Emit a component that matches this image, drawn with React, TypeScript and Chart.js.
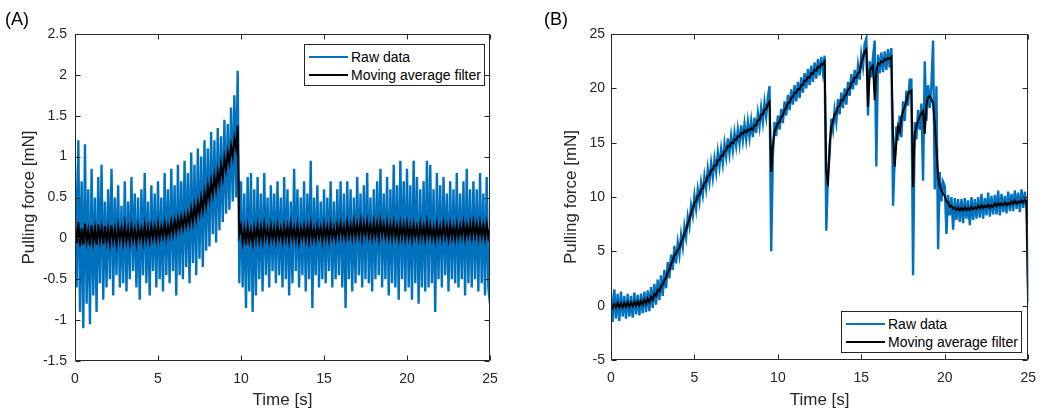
import { useEffect, useRef } from "react";
import { Chart, registerables } from "chart.js";

Chart.register(...registerables);

// ---------- data ----------
const SAMPLE_STEP_S = 0.1;
const X_TICKS = [0, 5, 10, 15, 20, 25];
const Y_TICKS_A = [-1.5, -1, -0.5, 0, 0.5, 1, 1.5, 2, 2.5];
const Y_TICKS_B = [-5, 0, 5, 10, 15, 20, 25];
const LEGEND_LABELS = ["Raw data", "Moving average filter"];

// Panel (A) raw force, one value per 0.1 s (rows = 1 s)
const RAW_A = [
  0.9, -0.6, 1.2, -0.9, 0.7, -1.1, 1.15, -0.8, 0.6, -1.05,
  0.85, -0.7, 0.5, -0.9, 0.75, -0.55, 0.9, -0.75, 0.45, -0.6,
  0.6, -0.5, 0.85, -0.7, 0.5, -0.45, 0.65, -0.6, 0.4, -0.55,
  0.7, -0.65, 0.45, -0.5, 0.75, -0.4, 0.55, -0.6, 0.5, -0.75,
  0.6, -0.45, 0.8, -0.55, 0.45, -0.7, 0.65, -0.4, 0.55, -0.6,
  0.7, -0.5, 0.5, -0.65, 0.8, -0.45, 0.6, -0.55, 0.85, -0.4,
  0.65, -0.7, 0.9, -0.45, 0.7, -0.5, 0.95, -0.35, 0.8, -0.55,
  1.05, -0.3, 0.9, -0.45, 1.1, -0.25, 1.0, -0.35, 1.2, -0.15,
  1.1, -0.1, 1.3, 0.05, 1.2, -0.05, 1.35, 0.1, 1.25, 0.2,
  1.45, 0.3, 1.4, 0.35, 1.6, 0.45, 1.75, 0.5, 2.05, -0.55,
  0.7, -0.6, 0.55, -0.85, 0.75, -0.65, 0.8, -0.9, 0.6, -0.7,
  0.75, -0.5, 0.55, -0.65, 0.8, -0.45, 0.5, -0.6, 0.65, -0.4,
  0.55, -0.55, 0.7, -0.45, 0.5, -0.6, 0.75, -0.5, 0.6, -0.7,
  0.45, -0.55, 0.85, -0.4, 0.6, -0.6, 0.5, -0.45, 0.7, -0.65,
  0.55, -0.5, 0.95, -0.85, 0.5, -0.45, 0.65, -0.6, 0.45, -0.5,
  0.6, -0.55, 0.5, -0.4, 0.7, -0.6, 0.45, -0.5, 0.6, -0.45,
  0.7, -0.6, 0.55, -0.85, 0.7, -0.5, 0.6, -0.65, 0.5, -0.55,
  0.75, -0.45, 0.55, -0.6, 0.65, -0.5, 0.8, -0.55, 0.5, -0.65,
  0.6, -0.5, 0.7, -0.45, 0.85, -0.6, 0.55, -0.5, 0.75, -0.7,
  0.6, -0.55, 0.9, -0.6, 0.65, -0.75, 0.95, -0.5, 0.7, -0.65,
  0.85, -0.6, 0.65, -0.75, 0.95, -0.55, 0.75, -0.8, 0.6, -0.6,
  0.7, -0.65, 0.95, -0.6, 0.9, -0.55, 0.6, -0.9, 0.8, -0.5,
  0.65, -0.6, 0.75, -0.45, 0.55, -0.65, 0.7, -0.5, 0.6, -0.55,
  0.8, -0.6, 0.55, -0.5, 0.7, -0.7, 0.85, -0.55, 0.6, -0.6,
  0.7, -0.5, 0.6, -0.65, 0.8, -0.55, 0.55, -0.7, 0.75, -0.6,
  -0.8,
];

// Panel (A) moving average
const AVG_A = [
  0.15, -0.06, 0.2, -0.1, 0.12, -0.08, 0.18, -0.04, 0.1, -0.09,
  0.16, -0.05, 0.12, -0.08, 0.17, -0.03, 0.13, -0.07, 0.15, -0.04,
  0.12, -0.06, 0.16, -0.03, 0.11, -0.07, 0.15, -0.02, 0.12, -0.05,
  0.16, -0.03, 0.12, -0.05, 0.15, -0.02, 0.11, -0.06, 0.14, -0.01,
  0.12, -0.04, 0.16, -0.02, 0.13, -0.03, 0.15, 0.0, 0.14, -0.02,
  0.17, 0.0, 0.14, 0.02, 0.18, 0.01, 0.16, 0.04, 0.2, 0.06,
  0.22, 0.08, 0.24, 0.11, 0.26, 0.12, 0.28, 0.15, 0.3, 0.17,
  0.36, 0.2, 0.4, 0.24, 0.44, 0.3, 0.5, 0.35, 0.56, 0.4,
  0.64, 0.48, 0.7, 0.54, 0.76, 0.6, 0.82, 0.67, 0.9, 0.74,
  0.98, 0.84, 1.05, 0.92, 1.13, 1.0, 1.22, 1.1, 1.38, 0.05,
  0.15, -0.05, 0.12, -0.08, 0.14, -0.03, 0.1, -0.06, 0.13, -0.02,
  0.16, -0.02, 0.13, -0.04, 0.17, 0.0, 0.12, -0.03, 0.15, -0.01,
  0.13, -0.03, 0.16, 0.0, 0.12, -0.04, 0.15, -0.01, 0.14, -0.03,
  0.17, 0.0, 0.13, -0.02, 0.16, -0.04, 0.12, 0.0, 0.15, -0.02,
  0.14, -0.03, 0.17, -0.01, 0.12, -0.02, 0.15, 0.01, 0.13, -0.03,
  0.16, 0.0, 0.14, -0.02, 0.17, 0.01, 0.13, -0.01, 0.16, 0.02,
  0.18, 0.02, 0.15, 0.0, 0.19, 0.03, 0.16, 0.01, 0.2, 0.02,
  0.17, 0.03, 0.21, 0.01, 0.18, 0.04, 0.2, 0.02, 0.17, 0.01,
  0.2, 0.03, 0.18, 0.0, 0.21, 0.04, 0.17, 0.02, 0.19, 0.01,
  0.16, 0.0, 0.19, 0.02, 0.15, -0.01, 0.18, 0.01, 0.16, 0.0,
  0.18, 0.01, 0.15, -0.02, 0.17, 0.02, 0.14, 0.0, 0.18, 0.01,
  0.15, -0.01, 0.19, 0.02, 0.16, 0.0, 0.13, -0.02, 0.17, 0.01,
  0.14, 0.0, 0.18, 0.02, 0.15, -0.01, 0.17, 0.01, 0.14, -0.01,
  0.17, 0.01, 0.15, 0.02, 0.19, 0.0, 0.16, 0.03, 0.18, 0.01,
  0.2, 0.03, 0.17, 0.01, 0.19, 0.02, 0.16, 0.0, 0.18, 0.02,
  0.12,
];

// Panel (B) raw force
const RAW_B = [
  1.2, -1.5, 1.5, -1.2, 1.1, -1.4, 1.3, -1.0, 0.9, -1.2,
  1.1, -1.0, 0.9, -1.1, 1.2, -0.8, 1.0, -0.9, 1.1, -0.7,
  1.3, -0.6, 1.4, -0.5, 1.7, -0.2, 2.0, 0.1, 2.4, 0.5,
  2.8, 0.9, 3.3, 1.6, 4.0, 2.5, 4.7, 3.3, 5.5, 3.9,
  5.8, 4.7, 6.5, 5.4, 7.3, 6.3, 8.2, 7.3, 9.2, 8.3,
  10.1, 8.9, 10.7, 9.6, 11.3, 10.2, 11.9, 10.8, 12.6, 11.4,
  13.1, 11.8, 13.5, 12.3, 14.1, 12.8, 14.4, 13.1, 14.9, 13.7,
  15.4, 14.0, 15.6, 14.3, 15.9, 14.7, 16.2, 14.9, 16.6, 15.2,
  16.7, 15.3, 16.9, 15.5, 17.0, 15.5, 17.3, 15.9, 17.7, 16.5,
  18.2, 16.9, 18.7, 17.4, 19.2, 20.2, 5.0, 13.8, 16.9, 15.6,
  17.5, 16.2, 18.1, 16.8, 18.8, 17.5, 19.4, 18.0, 19.9, 18.5,
  20.3, 18.8, 20.6, 19.1, 21.0, 19.6, 21.4, 20.0, 21.8, 20.3,
  22.1, 20.6, 22.4, 20.9, 22.7, 21.2, 22.9, 21.5, 23.0, 6.9,
  12.0, 13.9, 17.2, 16.2, 18.0, 16.9, 19.0, 17.6, 19.6, 18.2,
  20.0, 18.5, 20.6, 19.3, 21.3, 19.9, 21.7, 20.3, 22.1, 20.8,
  23.1, 22.0, 24.1, 24.6, 17.5, 22.5, 21.0, 22.9, 24.4, 12.8,
  23.1, 21.4, 23.3, 21.5, 23.4, 21.7, 23.6, 21.9, 23.7, 9.2,
  13.5, 16.5, 15.2, 17.5, 15.5, 18.8, 17.0, 19.8, 18.4, 20.8,
  20.8, 2.8, 16.9, 15.3, 18.0, 16.2, 18.6, 11.5, 22.5, 17.0,
  20.3, 18.2, 20.4, 24.4, 10.7, 20.2, 5.2, 12.3, 9.6, 11.4,
  11.0, 6.6, 10.2, 8.3, 10.0, 7.0, 9.9, 7.9, 9.8, 7.7,
  9.8, 7.6, 9.9, 8.0, 9.7, 7.4, 10.0, 7.9, 9.8, 8.0,
  10.0, 8.1, 10.3, 8.0, 9.9, 8.3, 10.4, 8.2, 10.1, 8.4,
  10.2, 8.4, 10.6, 8.3, 10.3, 8.6, 10.1, 8.5, 10.5, 8.7,
  10.3, 8.7, 10.6, 8.9, 10.4, 8.6, 10.7, 9.0, 10.5, 8.9,
  0.3,
];

// Panel (B) moving average
const AVG_B = [
  0.2, -0.2, 0.15, -0.2, 0.25, -0.15, 0.2, -0.15, 0.25, -0.1,
  0.3, -0.1, 0.3, -0.05, 0.35, 0.0, 0.4, 0.0, 0.45, 0.1,
  0.55, 0.2, 0.65, 0.3, 0.8, 0.55, 1.1, 0.9, 1.45, 1.3,
  1.8, 1.95, 2.35, 2.55, 3.05, 3.35, 3.85, 4.15, 4.65, 4.8,
  5.1, 5.35, 5.85, 6.15, 6.65, 6.95, 7.55, 7.95, 8.55, 8.95,
  9.5, 9.6, 10.1, 10.2, 10.7, 10.8, 11.3, 11.4, 11.9, 12.0,
  12.5, 12.5, 12.9, 12.9, 13.4, 13.4, 13.8, 13.8, 14.2, 14.3,
  14.7, 14.65, 15.0, 14.95, 15.3, 15.25, 15.6, 15.55, 15.9, 15.8,
  16.1, 15.95, 16.2, 16.1, 16.35, 16.2, 16.6, 16.6, 17.05, 17.1,
  17.6, 17.6, 18.05, 18.1, 18.55, 18.75, 12.3, 14.8, 16.0, 16.4,
  16.8, 16.9, 17.4, 17.5, 18.05, 18.2, 18.65, 18.7, 19.15, 19.2,
  19.6, 19.6, 19.95, 19.9, 20.3, 20.3, 20.7, 20.7, 21.05, 21.0,
  21.4, 21.35, 21.7, 21.65, 22.0, 21.9, 22.25, 22.2, 22.45, 12.5,
  11.0, 14.9, 16.4, 17.0, 17.6, 17.8, 18.3, 18.4, 18.9, 18.9,
  19.3, 19.4, 19.9, 20.0, 20.5, 20.6, 21.0, 21.0, 21.4, 21.5,
  22.4, 22.8, 23.4, 23.6, 18.3, 21.6, 21.9, 22.1, 18.9, 21.5,
  22.3, 22.2, 22.5, 22.4, 22.7, 22.6, 22.8, 22.7, 22.9, 15.8,
  12.8, 15.0, 16.5, 16.0, 17.2, 17.9, 18.3, 18.8, 19.5, 19.7,
  19.8, 10.9, 15.8, 16.5, 17.0, 17.4, 17.7, 17.9, 15.8, 18.5,
  19.2, 19.3, 19.0, 18.6, 16.7, 14.5, 11.9, 11.0, 10.6, 10.3,
  10.1, 9.6, 9.5, 9.1, 9.2, 8.9, 9.05, 8.8, 9.0, 8.75,
  9.0, 8.75, 9.05, 8.8, 9.0, 8.8, 9.1, 8.85, 9.05, 8.9,
  9.2, 8.95, 9.25, 9.0, 9.2, 9.05, 9.3, 9.0, 9.25, 9.1,
  9.4, 9.15, 9.45, 9.2, 9.4, 9.25, 9.5, 9.25, 9.45, 9.3,
  9.6, 9.35, 9.65, 9.4, 9.6, 9.45, 9.7, 9.5, 9.75, 9.6,
  0.3,
];

// ---------- styles ----------
const FONT_FAMILY = '"Liberation Sans", Arial, Helvetica, sans-serif';
const AXIS_COLOR = "#262626";
const RAW_COLOR = "#0072BD";
const AVG_COLOR = "#000000";
const W = 1046;
const H = 412;

const boxPlugin = {
  id: "matlabBox",
  afterDatasetsDraw(chart: any) {
    const { ctx, chartArea, scales } = chart;
    const L = Math.round(chartArea.left) + 0.5;
    const R = Math.round(chartArea.right) - 0.5;
    const T = Math.round(chartArea.top) + 0.5;
    const B = Math.round(chartArea.bottom) - 0.5;
    const tl = 5;
    ctx.save();
    ctx.strokeStyle = AXIS_COLOR;
    ctx.lineWidth = 1;
    ctx.beginPath();
    ctx.rect(L, T, R - L, B - T);
    scales.x.ticks.forEach((t: any) => {
      const px = Math.round(scales.x.getPixelForValue(t.value)) + 0.5;
      ctx.moveTo(px, B);
      ctx.lineTo(px, B - tl);
      ctx.moveTo(px, T);
      ctx.lineTo(px, T + tl);
    });
    scales.y.ticks.forEach((t: any) => {
      const py = Math.round(scales.y.getPixelForValue(t.value)) + 0.5;
      ctx.moveTo(L, py);
      ctx.lineTo(L + tl, py);
      ctx.moveTo(R, py);
      ctx.lineTo(R - tl, py);
    });
    ctx.stroke();
    ctx.restore();
  },
};

type PanelProps = {
  raw: number[];
  avg: number[];
  yTicks: number[];
  width: number;
  yAxisWidth: number;
  xAxisHeight: number;
  padRight: number;
  yTitlePad: number;
  yTickPad: number;
};

function Panel({ raw, avg, yTicks, width, yAxisWidth, xAxisHeight, padRight, yTitlePad, yTickPad }: PanelProps) {
  const ref = useRef<HTMLCanvasElement | null>(null);
  useEffect(() => {
    if (!ref.current) return;
    const times = raw.map((_, i) => Math.round(i * SAMPLE_STEP_S * 10) / 10);
    const tickFont = { family: FONT_FAMILY, size: 14 };
    const titleFont = { family: FONT_FAMILY, size: 17 };
    const chart = new Chart(ref.current, {
      type: "line",
      data: {
        datasets: [
          {
            label: LEGEND_LABELS[0],
            data: raw.map((y, i) => ({ x: times[i], y })),
            borderColor: RAW_COLOR,
            borderWidth: 2.4,
            pointRadius: 0,
            tension: 0,
            order: 2,
          },
          {
            label: LEGEND_LABELS[1],
            data: avg.map((y, i) => ({ x: times[i], y })),
            borderColor: AVG_COLOR,
            borderWidth: 2,
            pointRadius: 0,
            tension: 0,
            order: 1,
          },
        ],
      },
      options: {
        responsive: false,
        animation: false,
        devicePixelRatio: 1,
        events: [],
        layout: { padding: { top: 34, right: padRight, left: 0, bottom: 0 } },
        plugins: { legend: { display: false }, tooltip: { enabled: false }, title: { display: false } },
        scales: {
          x: {
            type: "linear",
            min: X_TICKS[0],
            max: X_TICKS[X_TICKS.length - 1],
            afterBuildTicks: (s: any) => {
              s.ticks = X_TICKS.map((v) => ({ value: v }));
            },
            afterFit: (s: any) => {
              s.height = xAxisHeight;
            },
            grid: { display: false, tickLength: 0 },
            border: { display: false },
            ticks: {
              color: AXIS_COLOR,
              font: tickFont,
              padding: 10,
              maxRotation: 0,
              autoSkip: false,
              callback: (v: any) => String(v),
            },
            title: {
              display: true,
              text: "Time [s]",
              color: AXIS_COLOR,
              font: titleFont,
              padding: { top: 0, bottom: 1 },
            },
          },
          y: {
            type: "linear",
            min: yTicks[0],
            max: yTicks[yTicks.length - 1],
            afterBuildTicks: (s: any) => {
              s.ticks = yTicks.map((v) => ({ value: v }));
            },
            afterFit: (s: any) => {
              s.width = yAxisWidth;
            },
            grid: { display: false, tickLength: 0 },
            border: { display: false },
            ticks: {
              color: AXIS_COLOR,
              font: tickFont,
              padding: yTickPad,
              autoSkip: false,
              callback: (v: any) => String(v),
            },
            title: {
              display: true,
              text: "Pulling force [mN]",
              color: AXIS_COLOR,
              font: titleFont,
              padding: { top: yTitlePad, bottom: 0 },
            },
          },
        },
      } as any,
      plugins: [boxPlugin],
    });
    return () => chart.destroy();
  }, [raw, avg, yTicks, width, yAxisWidth, xAxisHeight, padRight, yTitlePad, yTickPad]);
  return <canvas ref={ref} width={width} height={H} style={{ display: "block", width, height: H }} />;
}

function Legend({ left, top }: { left: number; top: number }) {
  const row = (label: string, color: string, y: number) => (
    <div style={{ position: "absolute", left: 0, top: y - 9, height: 18, width: "100%" }}>
      <div style={{ position: "absolute", left: 4, top: 8, width: 39, height: 2, background: color }} />
      <div style={{ position: "absolute", left: 46, top: 0, lineHeight: "18px", whiteSpace: "nowrap" }}>{label}</div>
    </div>
  );
  return (
    <div
      style={{
        position: "absolute",
        left,
        top,
        width: 181,
        height: 42,
        boxSizing: "border-box",
        border: `1px solid ${AXIS_COLOR}`,
        background: "#fff",
        fontFamily: FONT_FAMILY,
        fontSize: 14,
        color: "#000",
      }}
    >
      {row(LEGEND_LABELS[0], RAW_COLOR, 12)}
      {row(LEGEND_LABELS[1], AVG_COLOR, 30)}
    </div>
  );
}

export default function App() {
  const label = (text: string, left: number) => (
    <div
      style={{
        position: "absolute",
        left,
        top: 8,
        fontFamily: FONT_FAMILY,
        fontSize: 18,
        lineHeight: "22px",
        color: "#000",
      }}
    >
      {text}
    </div>
  );
  return (
    <div style={{ position: "fixed", left: 0, top: 0, width: W, height: H, background: "#fff", overflow: "hidden" }}>
      <div style={{ position: "absolute", left: 0, top: 0 }}>
        <Panel raw={RAW_A} avg={AVG_A} yTicks={Y_TICKS_A} width={523} yAxisWidth={75} xAxisHeight={51} padRight={33} yTitlePad={19} yTickPad={8} />
      </div>
      <div style={{ position: "absolute", left: 523, top: 0 }}>
        <Panel raw={RAW_B} avg={AVG_B} yTicks={Y_TICKS_B} width={523} yAxisWidth={88} xAxisHeight={52} padRight={15} yTitlePad={38} yTickPad={6} />
      </div>
      {label("(A)", 5)}
      {label("(B)", 544)}
      <Legend left={304} top={44} />
      <Legend left={841} top={311} />
    </div>
  );
}
